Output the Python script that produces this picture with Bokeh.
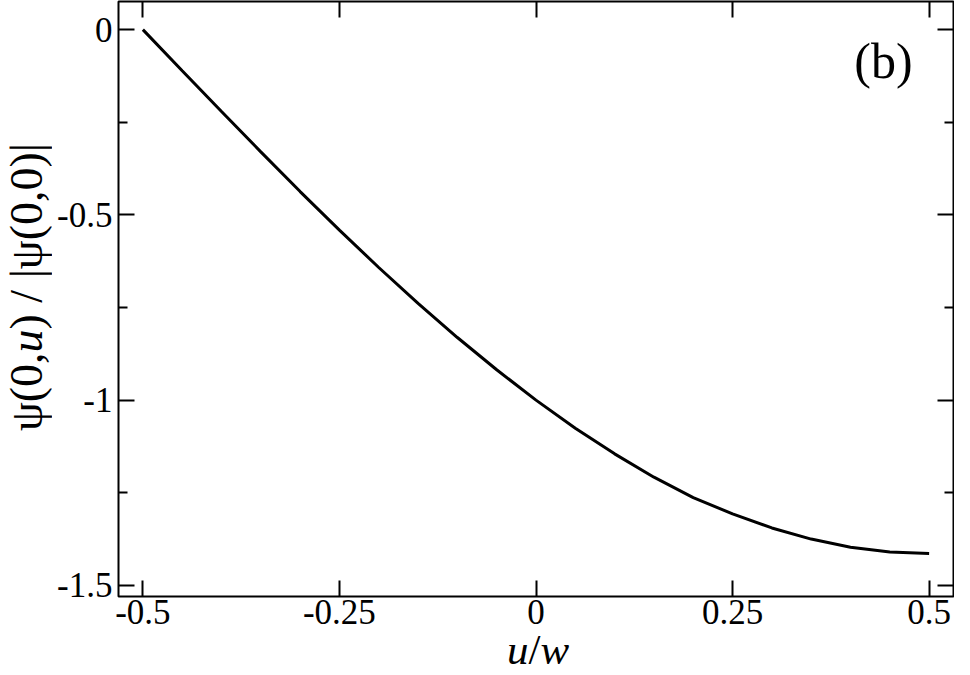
from bokeh.plotting import figure
from bokeh.models import FixedTicker, LinearAxis, Label, CustomJSTickFormatter, Range1d, Div
from bokeh.layouts import row, column
from bokeh.embed import file_html
from bokeh.resources import INLINE

# ---- data ----
u_vals = [-0.5, -0.45, -0.4, -0.35, -0.3, -0.25, -0.2, -0.15, -0.1, -0.05,
          0.0, 0.05, 0.1, 0.15, 0.2, 0.25, 0.3, 0.35, 0.4, 0.45, 0.5]
psi_vals = [0.0, -0.111, -0.221, -0.330, -0.437, -0.541, -0.642, -0.739, -0.831, -0.918,
            -1.0, -1.076, -1.145, -1.208, -1.263, -1.307, -1.345, -1.375, -1.397, -1.410, -1.414]
x_ticks = [-0.5, -0.25, 0, 0.25, 0.5]
y_ticks = [-1.5, -1, -0.5, 0]
y_minor_ticks = [-1.25, -0.75, -0.25]
x_label_html = "<i>u</i>/<i>w</i>"
y_label_html = "ψ(0,<i>u</i>) / |ψ(0,0)|"
panel_tag = "(b)"

FONT = "Liberation Serif"

p = figure(width=900, height=641, output_backend="svg", toolbar_location=None,
           x_range=Range1d(-0.531, 0.531), y_range=Range1d(-1.53, 0.076),
           min_border_left=63, min_border_right=1, min_border_top=1, min_border_bottom=45)
p.xgrid.visible = False
p.ygrid.visible = False
p.background_fill_color = "white"
p.border_fill_color = "white"
p.outline_line_color = "black"
p.outline_line_width = 2
p.outline_line_alpha = 1.0

blank = CustomJSTickFormatter(code="return ''")
plain = CustomJSTickFormatter(code="return tick.toString()")


def style(ax, ticks, minor, labels, standoff):
    ax.ticker = FixedTicker(ticks=ticks, minor_ticks=minor)
    ax.axis_line_color = None
    ax.major_tick_in = 16
    ax.major_tick_out = 0
    ax.minor_tick_in = 9
    ax.minor_tick_out = 0
    ax.major_tick_line_color = "black"
    ax.minor_tick_line_color = "black"
    ax.major_tick_line_width = 2
    ax.minor_tick_line_width = 2
    ax.major_label_text_font = FONT
    ax.major_label_text_color = "black"
    ax.major_label_standoff = standoff
    if labels:
        ax.formatter = plain
        ax.major_label_text_font_size = "35px"
    else:
        ax.formatter = blank
        ax.major_label_text_font_size = "1px"


style(p.xaxis[0], x_ticks, [], True, 3)
style(p.yaxis[0], y_ticks, y_minor_ticks, True, 6)

top_ax = LinearAxis()
right_ax = LinearAxis()
style(top_ax, x_ticks, [], False, 0)
style(right_ax, y_ticks, y_minor_ticks, False, 0)
p.add_layout(top_ax, "above")
p.add_layout(right_ax, "right")

p.line(u_vals, psi_vals, line_color="black", line_width=3)

p.add_layout(Label(x=0.442, y=-0.085, text=panel_tag, text_font=FONT,
                   text_font_size="50px", text_align="center", text_baseline="alphabetic",
                   text_color="black"))

ylab = Div(
    width=54, height=641, margin=0, styles={"overflow": "visible"},
    text=(
        '<div style="width:54px;height:574px;display:flex;align-items:center;'
        'justify-content:center;">'
        '<span style="writing-mode:vertical-rl;transform:rotate(180deg);'
        "font-family:'Liberation Serif';font-size:46px;line-height:1;"
        'white-space:nowrap;color:black;">' + y_label_html + '</span></div>'
    ),
)

xlab = Div(
    width=954, height=18, margin=0, styles={"overflow": "visible"},
    text=(
        '<div style="position:relative;width:954px;height:18px;">'
        '<span style="position:absolute;left:538px;top:0;transform:translateX(-50%);'
        "font-family:'Liberation Serif';font-size:43px;line-height:18px;"
        'white-space:nowrap;color:black;">' + x_label_html + '</span></div>'
    ),
)

layout = column(row(ylab, p), xlab)
open("out.html", "w").write(file_html(layout, INLINE))
